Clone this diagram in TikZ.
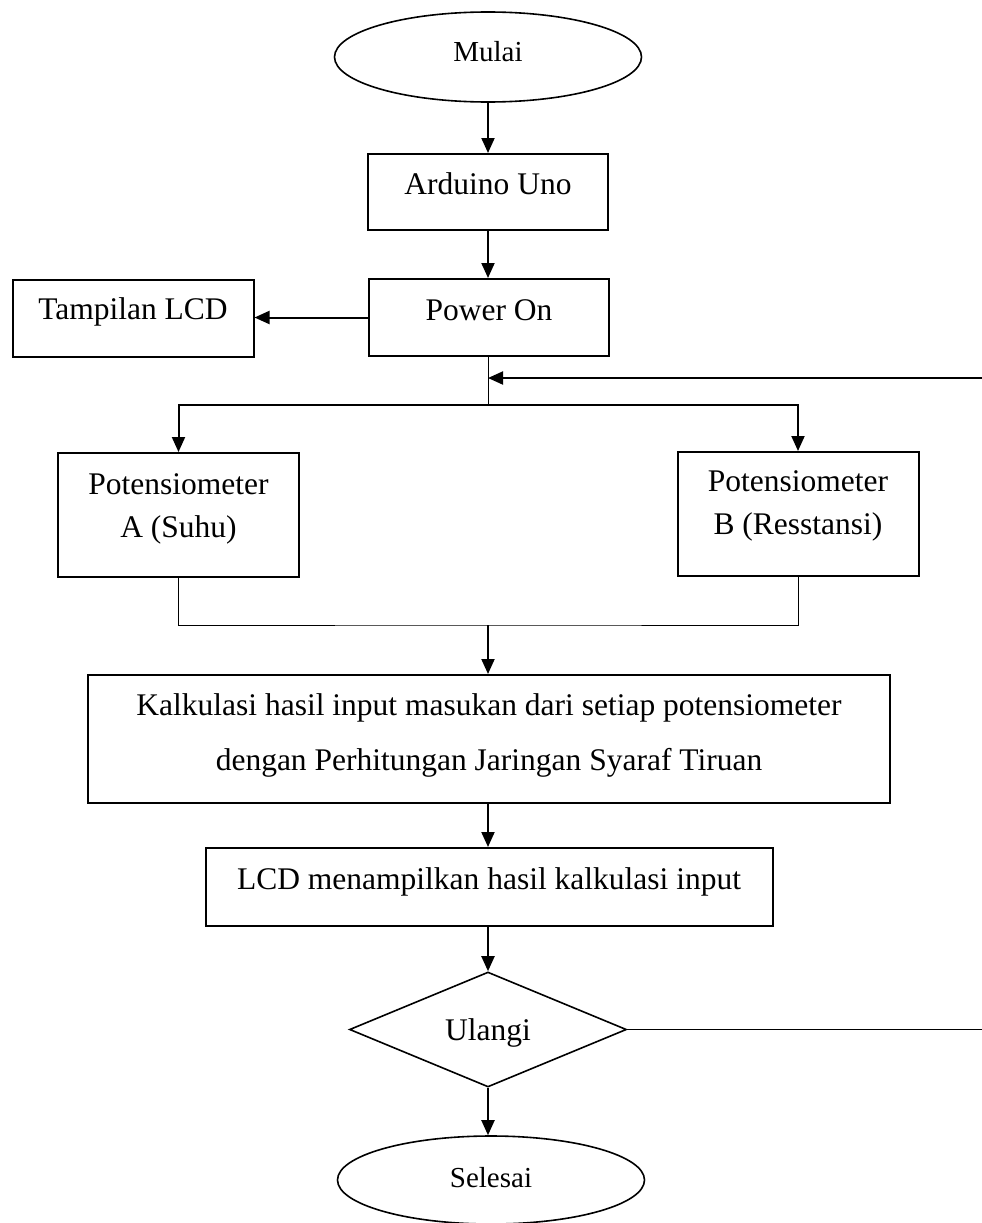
\documentclass[tikz,border=0pt]{standalone}
\usepackage{fontspec}
\setmainfont{Liberation Serif}
\usetikzlibrary{shapes.geometric,arrows.meta}
\begin{document}
\begin{tikzpicture}[x=1pt,y=-1pt,
  box/.style={draw,line width=2pt,rectangle,inner sep=0pt,text depth=0pt,
    font=\fontsize{31.5}{43}\selectfont},
  term/.style={draw,line width=1.6pt,ellipse,inner sep=0pt,text depth=0pt,
    minimum width=307pt,minimum height=90pt,font=\fontsize{29}{34}\selectfont},
  dec/.style={draw,line width=1.6pt,diamond,inner sep=0pt,text depth=0pt,
    minimum width=277pt,minimum height=115pt,font=\fontsize{31.5}{38}\selectfont},
  arr/.style={line width=2pt,-{Triangle[length=15pt,width=13pt]}},
  thinline/.style={line width=0.9pt}]
\useasboundingbox (0,0) rectangle (982,1223);

\node[term,text height=10pt] (start) at (488,57) {Mulai};
\node[box,minimum width=240pt,minimum height=76pt,text height=4pt] (ard) at (488,192) {Arduino Uno};
\node[box,minimum width=240pt,minimum height=77pt,text height=5pt] (pow) at (489,317.5) {Power On};
\node[box,minimum width=241pt,minimum height=77pt,text height=3pt] (lcd) at (133,318) {Tampilan LCD};
\node[box,minimum width=241pt,minimum height=124pt,text height=44pt] (pa) at (178.5,515)
  {\parbox[b]{210pt}{\centering Potensiometer\\A (Suhu)}};
\node[box,minimum width=241pt,minimum height=124pt,text height=40pt] (pb) at (798,514)
  {\parbox[b]{210pt}{\centering Potensiometer\\B (Resstansi)}};
\node[box,minimum width=802pt,minimum height=128pt,text height=62pt,
  font=\fontsize{31.5}{55}\selectfont] (calc) at (489,739)
  {\parbox[b]{780pt}{\centering Kalkulasi hasil input masukan dari setiap potensiometer\\dengan Perhitungan Jaringan Syaraf Tiruan}};
\node[box,minimum width=567pt,minimum height=78pt,text height=4pt] (show) at (489,887)
  {LCD menampilkan hasil kalkulasi input\hspace{12pt}};
\node[dec,text height=22pt] (rep) at (488,1029.5) {Ulangi};
\node[term,minimum height=88pt,text height=14pt] (end) at (491,1180) {Selesai};

\coordinate (split) at (488,405);
\coordinate (loopin) at (488,378);
\coordinate (merge) at (488,625);
\coordinate (rb) at (992,1029.5);
\coordinate (rt) at (992,378);

\draw[arr] (start.south) -- (ard.north);
\draw[arr] (ard.south) -- (pow.north -| ard.south);
\draw[arr] (pow.west) -- (lcd.east |- pow.west);
\draw[thinline] (pow.south -| split) -- (split);
\draw[arr] (split) -| (pa.north);
\draw[arr] (split) -| (pb.north);
\draw[thinline] (pa.south) |- (merge) -| (pb.south);
\draw[arr] (merge) -- (calc.north -| merge);
\draw[arr] (calc.south -| merge) -- (show.north -| merge);
\draw[arr] (show.south -| merge) -- (rep.north);
\draw[arr] (rep.south) -- (end.north -| rep.south);
\draw[line width=1.3pt] (rep.east) -- (rb) -- (rt);
\draw[arr] (rt) -- (loopin);
\end{tikzpicture}
\end{document}
